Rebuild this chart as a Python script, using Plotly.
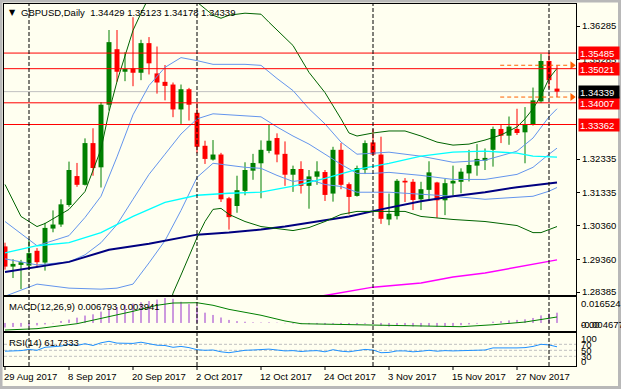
import plotly.graph_objects as go

# ---------------- data ----------------
opens = [1.2974, 1.2914, 1.2919, 1.2917, 1.2961, 1.2926, 1.3027, 1.3039, 1.3097, 1.3183,
         1.3157, 1.3281, 1.3209, 1.3395, 1.3560, 1.3493, 1.3503, 1.3490, 1.3578, 1.3488,
         1.3463, 1.3455, 1.3381, 1.3441, 1.3371, 1.3273, 1.3232, 1.3247, 1.3117, 1.3094,
         1.3139, 1.3199, 1.3221, 1.3258, 1.3296, 1.3249, 1.3187, 1.3204, 1.3154, 1.3181,
         1.3195, 1.3131, 1.3261, 1.3159, 1.3124, 1.3202, 1.3283, 1.3247, 1.3054, 1.3064,
         1.3169, 1.3166, 1.3114, 1.3142, 1.3164, 1.3111, 1.3161, 1.3166, 1.3191, 1.3214,
         1.3229, 1.3261, 1.3323, 1.3303, 1.3323, 1.3313, 1.3335, 1.3405, 1.3525, 1.34429]
highs = [1.2985, 1.2936, 1.2934, 1.2996, 1.2969, 1.3044, 1.3081, 1.3114, 1.3226, 1.3222,
         1.3295, 1.3325, 1.3403, 1.3617, 1.3617, 1.3551, 1.3655, 1.3588, 1.3596, 1.3568,
         1.3513, 1.3461, 1.3455, 1.3445, 1.3400, 1.3288, 1.3290, 1.3252, 1.3121, 1.3184,
         1.3224, 1.3249, 1.3289, 1.3335, 1.3310, 1.3286, 1.3214, 1.3227, 1.3201, 1.3227,
         1.3201, 1.3270, 1.3281, 1.3164, 1.3214, 1.3289, 1.3323, 1.3300, 1.3131, 1.3174,
         1.3177, 1.3174, 1.3166, 1.3227, 1.3166, 1.3174, 1.3214, 1.3206, 1.3261, 1.3278,
         1.3265, 1.3330, 1.3335, 1.3360, 1.3383, 1.3388, 1.3446, 1.3546, 1.35485, 1.35123]
lows = [1.2905, 1.2880, 1.2847, 1.2904, 1.2911, 1.2902, 1.3016, 1.3032, 1.3092, 1.3151,
        1.3155, 1.3184, 1.3149, 1.3378, 1.3463, 1.3465, 1.3450, 1.3468, 1.3485, 1.3428,
        1.3408, 1.3358, 1.3338, 1.3348, 1.3251, 1.3219, 1.3229, 1.3106, 1.3024, 1.3074,
        1.3126, 1.3172, 1.3117, 1.3251, 1.3224, 1.3154, 1.3136, 1.3131, 1.3086, 1.3157,
        1.3109, 1.3107, 1.3144, 1.3069, 1.3122, 1.3189, 1.3245, 1.3041, 1.3037, 1.3054,
        1.3106, 1.3082, 1.3082, 1.3109, 1.3059, 1.3067, 1.3126, 1.3132, 1.3167, 1.3184,
        1.3201, 1.3211, 1.3281, 1.3276, 1.3305, 1.3221, 1.3333, 1.3400, 1.3443, 1.34178]
closes = [1.2914, 1.2922, 1.2927, 1.2954, 1.2927, 1.3029, 1.3039, 1.3099, 1.3201, 1.3157,
          1.3281, 1.3207, 1.3395, 1.3581, 1.3493, 1.3501, 1.3490, 1.3578, 1.3518, 1.3461,
          1.3451, 1.3381, 1.3441, 1.3395, 1.3270, 1.3234, 1.3247, 1.3114, 1.3061, 1.3141,
          1.3201, 1.3222, 1.3261, 1.3288, 1.3247, 1.3187, 1.3204, 1.3154, 1.3182, 1.3197,
          1.3127, 1.3261, 1.3157, 1.3121, 1.3207, 1.3281, 1.3247, 1.3056, 1.3071, 1.3169,
          1.3164, 1.3112, 1.3144, 1.3194, 1.3111, 1.3162, 1.3169, 1.3196, 1.3216, 1.3234,
          1.3237, 1.3323, 1.3303, 1.3330, 1.3311, 1.3335, 1.3408, 1.3525, 1.3468, 1.34339]

# Bollinger (20,2) – green
bbu2_idx = [0, 2, 4, 5, 8, 10, 12, 13, 14, 16, 17, 18, 20, 22, 24, 26, 27, 28, 30, 32, 33, 34, 35, 36,
            38, 40, 42, 43, 44, 46, 48, 50, 52, 54, 56, 58, 60, 62, 64, 65, 66, 67, 68, 69]
bbu2_val = [1.3158, 1.3063, 1.3033, 1.3042, 1.3084, 1.3137, 1.3263, 1.3374, 1.3464, 1.3616, 1.3667,
            1.3715, 1.3766, 1.3766, 1.3700, 1.3661, 1.3652, 1.3661, 1.3667, 1.3664, 1.3640, 1.3616,
            1.3592, 1.3571, 1.3491, 1.3431, 1.3353, 1.3311, 1.3302, 1.3311, 1.3317, 1.3317, 1.3302,
            1.3284, 1.3275, 1.3278, 1.3290, 1.3305, 1.3329, 1.3353, 1.3383, 1.3422, 1.3473, 1.3503]
bbl2_idx = [0, 4, 8, 12, 16, 18, 20, 21, 22, 23, 24, 25, 26, 27, 28, 30, 32, 36, 38, 40, 42, 44, 48,
            50, 52, 56, 60, 64, 66, 67, 68, 69]
bbl2_val = [1.2716, 1.2806, 1.2773, 1.2710, 1.2611, 1.2662, 1.2734, 1.2835, 1.2889, 1.2943, 1.3000,
            1.3048, 1.3084, 1.3087, 1.3069, 1.3048, 1.3033, 1.3021, 1.3030, 1.3048, 1.3069, 1.3078,
            1.3078, 1.3078, 1.3063, 1.3054, 1.3048, 1.3036, 1.3015, 1.3015, 1.3024, 1.3033]
# Bollinger (20,1) – cornflower
bb1_idx = [0, 4, 8, 10, 12, 14, 16, 18, 20, 22, 24, 26, 28, 30, 32, 34, 36, 38, 40, 42, 44, 46, 48,
           52, 56, 60, 64, 66, 68, 69]
bbm_val = [1.2937, 1.2919, 1.2928, 1.2949, 1.2985, 1.3039, 1.3114, 1.3188, 1.3248, 1.3308, 1.3353,
           1.3368, 1.3365, 1.3362, 1.3359, 1.3329, 1.3302, 1.3278, 1.3248, 1.3218, 1.3191, 1.3191,
           1.3194, 1.3185, 1.3173, 1.3173, 1.3188, 1.3209, 1.3248, 1.3266]
bbu1_val = [1.3048, 1.2976, 1.3006, 1.3060, 1.3123, 1.3240, 1.3365, 1.3452, 1.3506, 1.3535, 1.3526,
            1.3515, 1.3515, 1.3515, 1.3512, 1.3473, 1.3437, 1.3383, 1.3338, 1.3284, 1.3248, 1.3251,
            1.3254, 1.3242, 1.3224, 1.3230, 1.3257, 1.3296, 1.3359, 1.3383]
bbl1_val = [1.2826, 1.2862, 1.2850, 1.2848, 1.2847, 1.2850, 1.2862, 1.2925, 1.2991, 1.3081, 1.3179,
            1.3221, 1.3215, 1.3209, 1.3206, 1.3185, 1.3167, 1.3173, 1.3158, 1.3152, 1.3135, 1.3135,
            1.3135, 1.3129, 1.3123, 1.3114, 1.3120, 1.3123, 1.3138, 1.3149]
# moving averages
ma_cyan_idx = [0, 4, 8, 12, 16, 20, 24, 28, 32, 36, 40, 44, 48, 52, 56, 60, 64, 66, 69]
ma_cyan_val = [1.2955, 1.2976, 1.2985, 1.3015, 1.3063, 1.3105, 1.3126, 1.3132, 1.3135, 1.3153,
               1.3176, 1.3203, 1.3221, 1.3242, 1.3254, 1.3257, 1.3251, 1.3242, 1.3239]
ma_navy_idx = [0, 4, 8, 13, 18, 24, 28, 32, 35, 39, 43, 47, 52, 56, 60, 64, 69]
ma_navy_val = [1.2898, 1.2913, 1.2928, 1.2964, 1.2982, 1.3009, 1.3015, 1.3024, 1.3033, 1.3048,
               1.3063, 1.3084, 1.3108, 1.3123, 1.3135, 1.3150, 1.3164]
ma_mag_idx = [38, 41, 46, 52, 56, 60, 64, 69]
ma_mag_val = [1.2820, 1.2832, 1.2853, 1.2865, 1.2883, 1.2895, 1.2913, 1.2934]

# MACD(12,26,9)
macd_main = [-0.0030, -0.0027, -0.0025, -0.0020, -0.0016, -0.0010, -0.0003, 0.0013, 0.0022, 0.0035,
             0.0049, 0.0057, 0.0075, 0.0093, 0.0106, 0.0119, 0.0128, 0.0137, 0.0145, 0.0155,
             0.016524, 0.0160, 0.0140, 0.0125, 0.0110, 0.0068, 0.0053, 0.0036, 0.0020, 0.0012,
             0.0008, 0.0004, 0.0003, 0.0004, 0.0002, -0.0002, -0.0004, -0.0006, -0.0008, -0.0008,
             -0.0010, -0.0006, -0.0008, -0.0012, -0.0010, -0.0005, -0.0006, -0.0018, -0.0024, -0.0020,
             -0.0019, -0.0023, -0.0024, -0.0021, -0.0025, -0.0022, -0.0020, -0.0015, -0.0010, -0.0005,
             -0.0001, 0.0008, 0.0012, 0.0017, 0.0020, 0.0024, 0.0033, 0.0050, 0.0062, 0.006793]
macd_sig_idx = [0, 4, 9, 13, 16, 19, 21, 24, 26, 28, 32, 35, 37, 44, 54, 57, 61, 65, 69]
macd_sig_val = [-0.004677, -0.0038, -0.0005, 0.0039, 0.0077, 0.0117, 0.0132, 0.0134, 0.0117, 0.0090,
                0.0051, 0.0013, -0.0005, -0.0012, -0.0025, -0.0025, -0.0012, 0.0006, 0.003941]
# RSI(14)
rsi = [47, 48, 49, 53, 50, 60, 61, 64, 70, 66, 72, 66, 75, 80, 74, 74, 73, 77, 72, 67,
       66, 60, 63, 59, 52, 50, 51, 45, 42, 47, 50, 51, 52, 54, 51, 48, 49, 46, 48, 49,
       45, 52, 47, 45, 49, 53, 51, 42, 43, 48, 48, 45, 47, 50, 47, 49, 48, 49, 50, 50,
       51, 58, 57, 58, 58, 59, 63, 70, 68, 61.7333]

# levels and labels
red_levels = [1.35485, 1.35021, 1.34007, 1.33362]
bid_level = 1.34339
day_high, day_low = 1.35123, 1.34178
price_ticks = [1.36285, 1.35285, 1.32335, 1.31335, 1.30360, 1.29360, 1.28385]
date_tick_idx = [0, 8, 16, 24, 32, 40, 48, 56, 64]
date_tick_text = ["29 Aug 2017", "8 Sep 2017", "20 Sep 2017", "2 Oct 2017", "12 Oct 2017",
                  "24 Oct 2017", "3 Nov 2017", "15 Nov 2017", "27 Nov 2017"]
separator_idx = [3, 24, 46, 68]
title_text = "GBPUSD,Daily  1.34429 1.35123 1.34178 1.34339"
macd_text = "MACD(12,26,9) 0.006793 0.003941"
rsi_text = "RSI(14) 61.7333"
rsi_levels = [70, 50, 30]
rsi_labels = [("100", 338.5), ("70", 344.5), ("50", 350.5), ("30", 356.5), ("0", 361.5)]

# ---------------- styling ----------------
W, H = 621, 389
L, R, T, B = 4, 45, 4, 23
PW, PH = W - L - R, H - T - B
FONT = "Liberation Sans"
BG = "#FFFFF0"
GREEN = "#008000"
RED = "#FF0000"


def px_x(px):
    return (px - L) / PW


def px_y(py):
    return (H - B - py) / PH


main_dom = [px_y(295), 1.0]
macd_dom = [px_y(331), px_y(297)]
rsi_dom = [0.0, px_y(333)]

fig = go.Figure()
n = len(opens)
idx = list(range(n))
up = [i for i in idx if closes[i] >= opens[i]]
dn = [i for i in idx if closes[i] < opens[i]]


def wicks(sel):
    xs, ys = [], []
    for i in sel:
        xs += [i, i, None]
        ys += [lows[i], highs[i], None]
    return xs, ys


for sel, col in ((up, GREEN), (dn, RED)):
    wx, wy = wicks(sel)
    fig.add_trace(go.Scatter(x=wx, y=wy, mode="lines", line=dict(color=col, width=1),
                             hoverinfo="skip", showlegend=False))
    fig.add_trace(go.Bar(x=sel,
                         y=[max(abs(closes[i] - opens[i]), 0.0003) for i in sel],
                         base=[min(opens[i], closes[i]) for i in sel],
                         width=0.62, marker=dict(color=col, line=dict(width=0)),
                         hoverinfo="skip", showlegend=False))

line_specs = [
    (bb1_idx, bbm_val, "#6495ED", 1),
    (bb1_idx, bbu1_val, "#6495ED", 1),
    (bb1_idx, bbl1_val, "#6495ED", 1),
    (ma_cyan_idx, ma_cyan_val, "#00FFFF", 1.3),
    (ma_navy_idx, ma_navy_val, "#000080", 2),
    (ma_mag_idx, ma_mag_val, "#FF00FF", 1.5),
    (bbu2_idx, bbu2_val, "#006400", 1),
    (bbl2_idx, bbl2_val, "#006400", 1),
]
for xi, yv, col, w in line_specs:
    fig.add_trace(go.Scatter(x=xi, y=yv, mode="lines", line=dict(color=col, width=w),
                             hoverinfo="skip", showlegend=False))

# day high / low arrows
for lv in (day_high, day_low):
    fig.add_trace(go.Scatter(x=[61.9, 70.6], y=[lv, lv], mode="lines",
                             line=dict(color="#FF6000", width=1, dash="4px,3px"),
                             hoverinfo="skip", showlegend=False))
    fig.add_trace(go.Scatter(x=[70.9], y=[lv], mode="markers",
                             marker=dict(symbol="triangle-right", size=7, color="#FF6000"),
                             hoverinfo="skip", showlegend=False, cliponaxis=False))

# MACD
hx, hy = [], []
for i, v in enumerate(macd_main):
    hx += [i, i, None]
    hy += [0, v, None]
fig.add_trace(go.Scatter(x=hx, y=hy, mode="lines", line=dict(color="#9932CC", width=1),
                         xaxis="x2", yaxis="y2", hoverinfo="skip", showlegend=False))
fig.add_trace(go.Scatter(x=macd_sig_idx, y=macd_sig_val, mode="lines",
                         line=dict(color="#008000", width=1),
                         xaxis="x2", yaxis="y2", hoverinfo="skip", showlegend=False))
# RSI
fig.add_trace(go.Scatter(x=idx, y=rsi, mode="lines", line=dict(color="#1E90FF", width=1),
                         xaxis="x3", yaxis="y3", hoverinfo="skip", showlegend=False))

shapes = []
# window frame
shapes.append(dict(type="rect", xref="paper", yref="paper", x0=px_x(1), x1=px_x(619.5),
                   y0=px_y(387.5), y1=px_y(1), line=dict(color="#B8B8B8", width=3),
                   fillcolor="rgba(0,0,0,0)", layer="below"))
for lv in red_levels:
    shapes.append(dict(type="line", xref="paper", yref="y", x0=0, x1=1, y0=lv, y1=lv,
                       line=dict(color=RED, width=1), layer="above"))
shapes.append(dict(type="line", xref="paper", yref="y", x0=0, x1=1, y0=bid_level, y1=bid_level,
                   line=dict(color="#C0C0C0", width=1), layer="below"))
for lv in rsi_levels:
    shapes.append(dict(type="line", xref="paper", yref="y3", x0=0, x1=1, y0=lv, y1=lv,
                       line=dict(color="#C0C0C0", width=1, dash="3px,2px"), layer="below"))
for s in separator_idx:
    shapes.append(dict(type="line", xref="x", yref="paper", x0=s, x1=s, y0=0, y1=1,
                       line=dict(color="black", width=1, dash="4px,2px"), layer="above"))
for t in date_tick_idx:
    shapes.append(dict(type="line", xref="x", yref="paper", x0=t, x1=t, y0=px_y(366),
                       y1=px_y(370), line=dict(color="black", width=1)))

ann = []
fnt = dict(family=FONT, size=9.5, color="black")
ann.append(dict(text="▼", xref="paper", yref="paper", x=px_x(7), y=px_y(12.5),
                xanchor="left", yanchor="middle", showarrow=False,
                font=dict(family="DejaVu Sans", size=8, color="black")))
ann.append(dict(text=title_text, xref="paper", yref="paper", x=px_x(19), y=px_y(12.5),
                xanchor="left", yanchor="middle", showarrow=False, font=fnt))
ann.append(dict(text=macd_text, xref="paper", yref="paper", x=px_x(7), y=px_y(306),
                xanchor="left", yanchor="middle", showarrow=False, font=fnt))
ann.append(dict(text=rsi_text, xref="paper", yref="paper", x=px_x(7), y=px_y(342.5),
                xanchor="left", yanchor="middle", showarrow=False, font=fnt))
for t, txt in zip(date_tick_idx, date_tick_text):
    ann.append(dict(text=txt, xref="x", yref="paper", x=t, y=px_y(376), xanchor="left",
                    yanchor="middle", showarrow=False, xshift=-3, font=fnt))
for lv in red_levels:
    ann.append(dict(text=f"{lv:.5f}", xref="paper", yref="y", x=px_x(578), y=lv,
                    xanchor="left", yanchor="middle", showarrow=False, bgcolor=RED,
                    borderpad=1, width=38, height=10, align="left",
                    font=dict(family=FONT, size=9.5, color="white")))
ann.append(dict(text=f"{bid_level:.5f}", xref="paper", yref="y", x=px_x(578), y=bid_level,
                xanchor="left", yanchor="middle", showarrow=False, bgcolor="black",
                borderpad=1, width=38, height=10, align="left",
                font=dict(family=FONT, size=9.5, color="white")))
for txt, py in (("0.016524", 303), ("-0.004677", 324), ("0.00", 324)):
    ann.append(dict(text=txt, xref="paper", yref="paper", x=px_x(579), y=px_y(py),
                    xanchor="left", yanchor="middle", showarrow=False, font=fnt))
for txt, py in rsi_labels:
    ann.append(dict(text=txt, xref="paper", yref="paper", x=px_x(579), y=px_y(py),
                    xanchor="left", yanchor="middle", showarrow=False, font=fnt))

ax_common = dict(showgrid=False, zeroline=False, showline=True, mirror=True,
                 linecolor="black", linewidth=1)
fig.update_layout(
    width=W, height=H, margin=dict(l=L, r=R, t=T, b=B),
    paper_bgcolor=BG, plot_bgcolor=BG, barmode="overlay", showlegend=False,
    xaxis=dict(domain=[0, 1], range=[-0.125, 71.375], anchor="y", showticklabels=False,
               ticks="", **ax_common),
    xaxis2=dict(domain=[0, 1], matches="x", anchor="y2", showticklabels=False, ticks="",
                **ax_common),
    xaxis3=dict(domain=[0, 1], matches="x", anchor="y3", showticklabels=False, ticks="",
                **ax_common),
    yaxis=dict(domain=main_dom, range=[1.28296, 1.36943], side="right", anchor="x",
               tickmode="array", tickvals=price_ticks,
               ticktext=[f"{v:.5f}" for v in price_ticks], ticks="outside", ticklen=3,
               tickcolor="black", tickfont=dict(family=FONT, size=9.5, color="black"),
               **ax_common),
    yaxis2=dict(domain=macd_dom, range=[-0.00534, 0.01719], anchor="x2",
                showticklabels=False, ticks="", **ax_common),
    yaxis3=dict(domain=rsi_dom, range=[-2.3, 107.7], anchor="x3",
                showticklabels=False, ticks="", **ax_common),
    shapes=shapes, annotations=ann,
)
fig.write_html("out.html", config={"displayModeBar": False, "staticPlot": True},
               post_script="document.body.style.margin='0';document.body.style.overflow='hidden';")
